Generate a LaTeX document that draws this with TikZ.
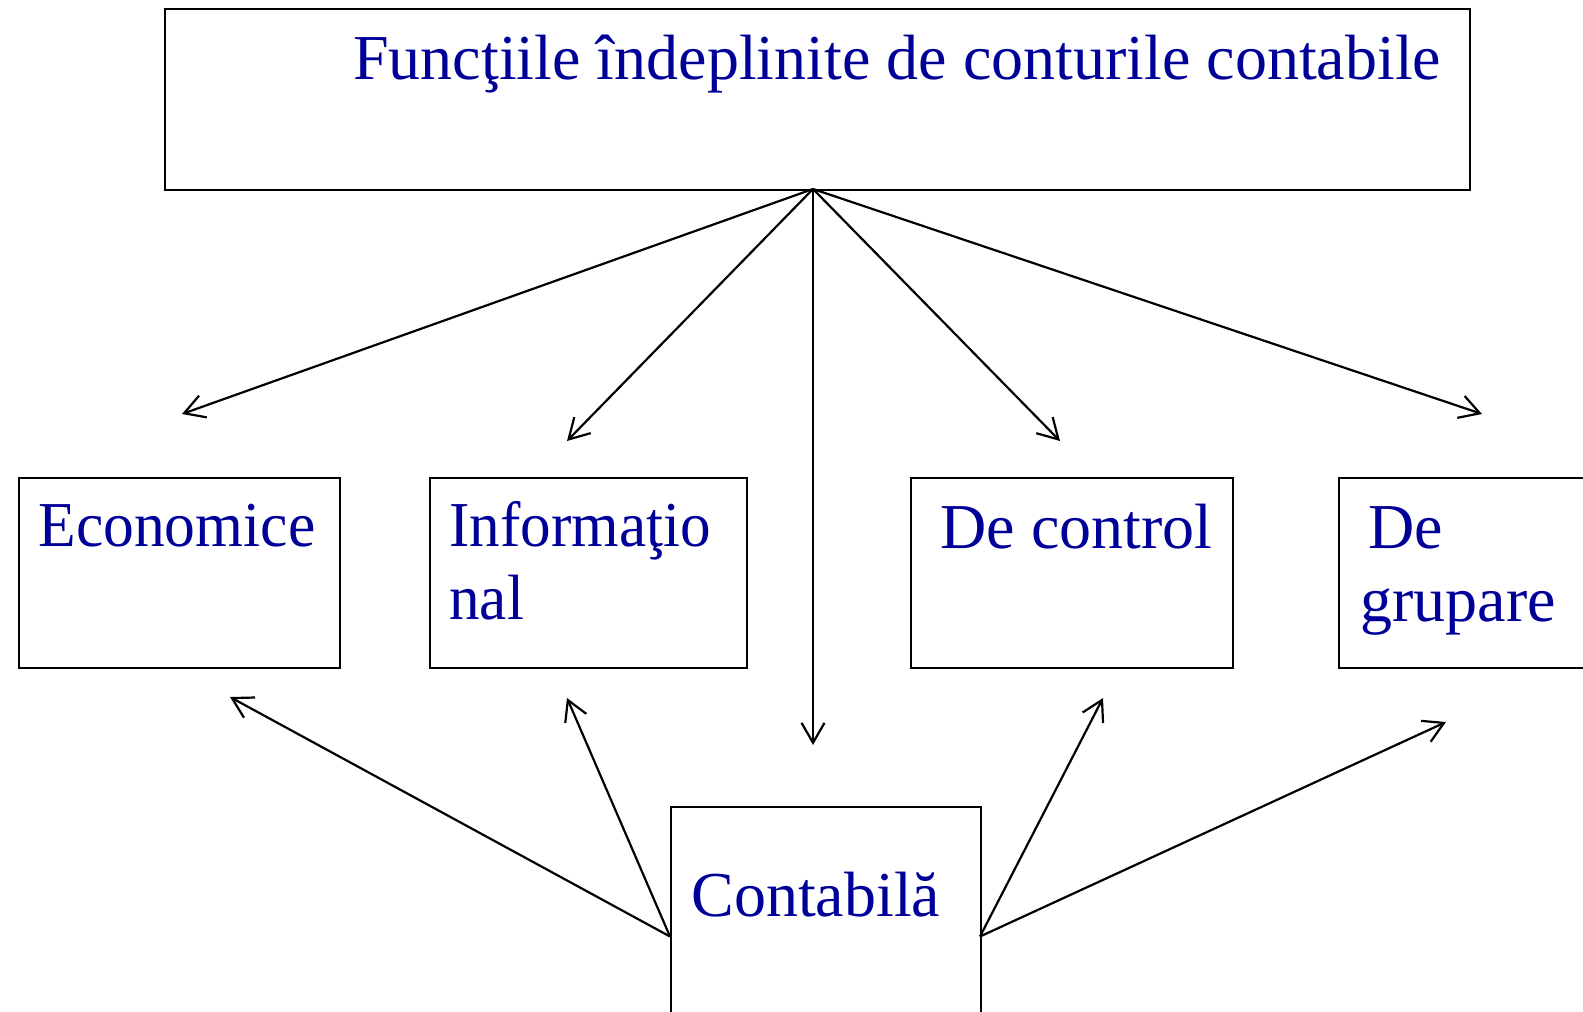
\documentclass[tikz,border=0pt]{standalone}
\usepackage{graphicx}
\usepackage{fontspec}
\setmainfont{Liberation Serif}
\usetikzlibrary{arrows.meta}
\definecolor{txtblue}{RGB}{0,0,153}
\begin{document}
\begin{tikzpicture}[x=0.5pt,y=-0.5pt,
  box/.style={draw, line width=1pt, inner sep=0pt, anchor=north west, rectangle},
  lbl/.style={text=txtblue, font=\fontsize{32}{38}\selectfont, anchor=base west, inner sep=0pt},
  arr/.style={line width=1.1pt, -{Straight Barb[length=10pt,width=11.5pt,line width=1.1pt]}}]
\useasboundingbox (0,0) rectangle (1583,1011);
\clip (0,0) rectangle (1583,1011);
% boxes
\node[box, minimum width=652.5pt, minimum height=90.5pt] (top) at (163.5,8) {};
\node[box, minimum width=160.8pt, minimum height=95pt] (eco) at (17.5,476.5) {};
\node[box, minimum width=158.8pt, minimum height=95pt] (inf) at (428.5,476.5) {};
\node[box, minimum width=161.2pt, minimum height=95pt] (ctrl) at (910,476.5) {};
\node[box, minimum width=140pt, minimum height=95pt] (grp) at (1338,476.5) {};
\node[box, minimum width=155pt, minimum height=120pt] (cont) at (670,806) {};
% texts
\node[lbl] (ttitle) at (353,80) {Funcţiile îndeplinite de conturile contabile};
\node[lbl] (teco) at (38,546) {\scalebox{0.962}[1]{Economice}};
\node[lbl] (tinf1) at (449,546) {\scalebox{0.955}[1]{Informaţio}};
\node[lbl] (tinf2) at (449,619) {\scalebox{0.955}[1]{nal}};
\node[lbl] (tctrl) at (940,548) {De control};
\node[lbl] (tgrp1) at (1368,548) {De};
\node[lbl] (tgrp2) at (1360,621) {grupare};
\node[lbl] (tcont) at (691,916) {Contabilă};
% connector points
\coordinate (src) at (813,189);
\coordinate (t1) at (182,414);
\coordinate (t2) at (567,441);
\coordinate (t3) at (813,745);
\coordinate (t4) at (1060,441);
\coordinate (t5) at (1482,414);
\coordinate (cl) at (670,936.5);
\coordinate (cr) at (980,936.5);
\coordinate (b1) at (230,697);
\coordinate (b2) at (567,698);
\coordinate (b3) at (1103,698);
\coordinate (b4) at (1446,722);
% arrows
\draw[arr] (src) -- (t1);
\draw[arr] (src) -- (t2);
\draw[arr] (src) -- (t3);
\draw[arr] (src) -- (t4);
\draw[arr] (src) -- (t5);
\draw[arr] (cl) -- (b1);
\draw[arr] (cl) -- (b2);
\draw[arr] (cr) -- (b3);
\draw[arr] (cr) -- (b4);
\end{tikzpicture}
\end{document}
